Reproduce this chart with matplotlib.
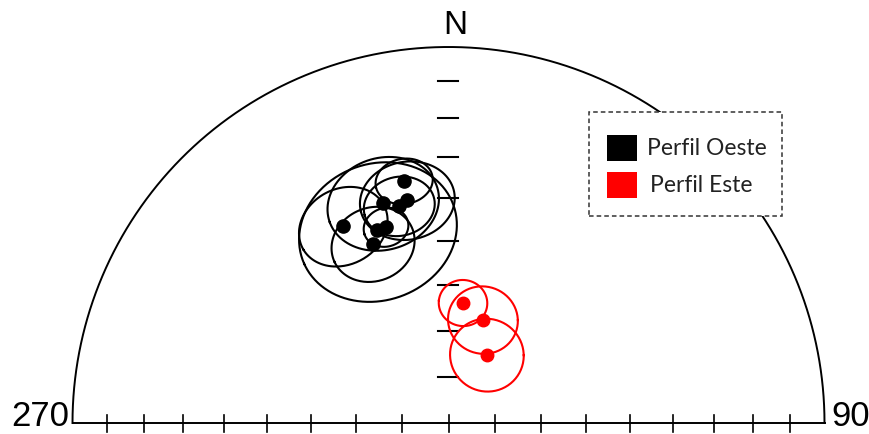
import numpy as np
import matplotlib
matplotlib.use("Agg")
import matplotlib.pyplot as plt
from matplotlib.patches import Rectangle

# ---- data (declination, inclination, alpha95) ----
oeste_dec = [349.6, 343.4, 349.5, 347.2, 331.8, 339.7, 342.3, 337.1]
oeste_inc = [34.9, 38.8, 39.5, 40.5, 40.3, 44.5, 44.5, 47.1]
oeste_a95 = [5.5, 11.0, 9.3, 7.0, 9.0, 16.0, 4.5, 8.5]

este_dec = [6.9, 18.5, 29.5]
este_inc = [63.7, 66.4, 73.1]
este_a95 = [5.1, 7.4, 7.9]

inc_ticks = [10, 20, 30, 40, 50, 60, 70, 80]
legend_labels = ["Perfil Oeste", "Perfil Este"]
dir_labels = ["N", "270", "90"]


def to_vec(dec, inc):
    d, i = np.radians(dec), np.radians(inc)
    return np.array([np.cos(i) * np.cos(d), np.cos(i) * np.sin(d), np.sin(i)])


def project(v):
    n, e, d = v
    f = 1.0 / np.sqrt(1.0 + d)
    return e * f, n * f


def small_circle(dec, inc, a95, npts=200):
    m = to_vec(dec, inc)
    ref = np.array([0.0, 0.0, 1.0]) if abs(m[2]) < 0.9 else np.array([1.0, 0.0, 0.0])
    u = np.cross(m, ref)
    u /= np.linalg.norm(u)
    w = np.cross(m, u)
    t = np.linspace(0, 2 * np.pi, npts)
    a = np.radians(a95)
    pts = (np.cos(a) * m[:, None] + np.sin(a) * (np.cos(t) * u[:, None] + np.sin(t) * w[:, None]))
    return project(pts)


def inc_radius(inc):
    return np.sqrt(2) * np.sin(np.radians(90 - inc) / 2)


fig = plt.figure(figsize=(8.69, 4.35), dpi=100)
ax = fig.add_axes([0, 0, 1, 1])
ax.set_xlim(-448.5 / 376, (869 - 448.5) / 376)
ax.set_ylim((424 - 435) / 376, 424 / 376)
ax.axis("off")

# primitive half circle + baseline
th = np.linspace(0, np.pi, 400)
ax.plot(np.cos(th), np.sin(th), color="black", lw=1.4, zorder=2)
ax.plot([-1, 1], [0, 0], color="black", lw=1.4, zorder=2)

# ticks
for inc in inc_ticks:
    r = inc_radius(inc)
    for s in (-1, 1):
        ax.plot([s * r, s * r], [-0.024, 0.0213], color="black", lw=1.2, zorder=2)
    ax.plot([-0.029, 0.026], [r, r], color="black", lw=1.5, zorder=2)
ax.plot([0, 0], [-0.024, 0.0213], color="black", lw=1.2, zorder=2)
ax.plot([-0.029, 0.026], [0, 0], color="#888888", lw=1.3, zorder=1)

# data
for dec, inc, a in zip(oeste_dec, oeste_inc, oeste_a95):
    x, y = small_circle(dec, inc, a)
    ax.plot(x, y, color="black", lw=1.5, zorder=3)
for dec, inc, a in zip(este_dec, este_inc, este_a95):
    x, y = small_circle(dec, inc, a)
    ax.plot(x, y, color="#ff0000", lw=1.5, zorder=3)
for dec, inc in zip(oeste_dec, oeste_inc):
    x, y = project(to_vec(dec, inc))
    ax.plot(x, y, "o", color="black", ms=9.5, zorder=4)
for dec, inc in zip(este_dec, este_inc):
    x, y = project(to_vec(dec, inc))
    ax.plot(x, y, "o", color="#ff0000", ms=9, zorder=4)

# direction labels
def px(xp, yp):
    return (xp - 448.5) / 376, (424 - yp) / 376

ax.text(*px(455, 25), dir_labels[0], fontsize=24, family="Liberation Sans",
        ha="center", va="center")
ax.text(*px(69, 417), dir_labels[1], fontsize=25, family="Liberation Sans",
        ha="right", va="center")
ax.text(*px(831, 417), dir_labels[2], fontsize=25, family="Liberation Sans",
        ha="left", va="center")

# legend box
x0, y0 = px(589, 217)
x1, y1 = px(782, 113)
ax.add_patch(Rectangle((x0, y0), x1 - x0, y1 - y0, facecolor="white",
                       edgecolor="#333333", lw=1.1, ls=(0, (3, 2)), zorder=5))
for (yc, col, lab, tx) in [(149, "black", legend_labels[0], 647), (185.5, "#ff0000", legend_labels[1], 650)]:
    sx0, sy0 = px(607, yc + 13)
    sx1, sy1 = px(637, yc - 13)
    ax.add_patch(Rectangle((sx0, sy0), sx1 - sx0, sy1 - sy0, facecolor=col,
                           edgecolor="none", zorder=6))
    ax.text(*px(tx, yc), lab, fontsize=16.5, family="Lato", ha="left", va="center",
            color="#222222", zorder=6)

fig.savefig("out.png", dpi=100)
